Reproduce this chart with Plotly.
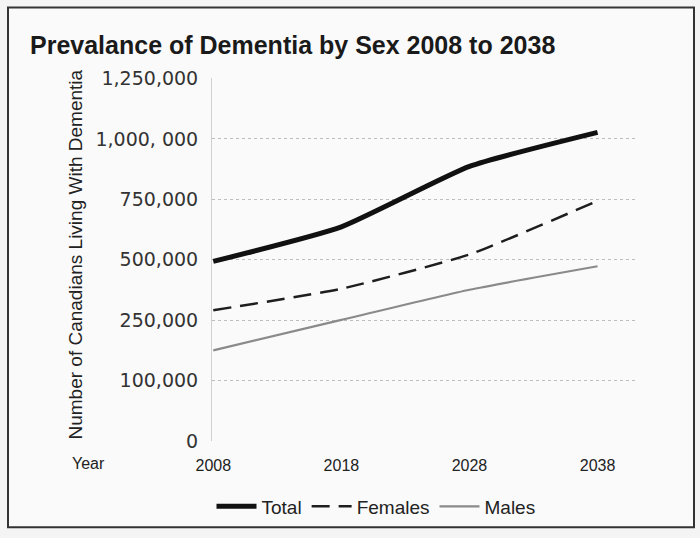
import plotly.graph_objects as go

years = [2008, 2018, 2028, 2038]
total = [493000, 636000, 886000, 1027000]
females = [291000, 380000, 522000, 744000]
males = [125000, 251000, 376000, 473000]

# the printed axis has evenly spaced gridlines with these (uneven) labels
y_tick_vals = [-250000, 0, 250000, 500000, 750000, 1000000, 1250000]
y_tick_text = ["0", "100,000", "250,000", "500,000", "750,000", "1,000, 000", "1,250,000"]
x_tick_vals = [2008, 2018, 2028, 2038]

W, H = 700, 538
L, R, T, B = 212, 64, 78, 94
pw, ph = W - L - R, H - T - B

def px(x):
    return (x - L) / pw

def py(y):
    return (H - B - y) / ph

font = "Liberation Sans, Arial, sans-serif"

fig = go.Figure()
fig.add_trace(go.Scatter(x=years, y=total, name="Total", mode="lines",
                         line=dict(color="#111111", width=5, shape="spline", smoothing=0.5)))
fig.add_trace(go.Scatter(x=years, y=females, name="Females", mode="lines",
                         line=dict(color="#1e1e1e", width=2.5, dash="18px,9px", shape="spline", smoothing=0.5)))
fig.add_trace(go.Scatter(x=years, y=males, name="Males", mode="lines",
                         line=dict(color="#8a8a8a", width=2.2, shape="spline", smoothing=0.5)))

fig.update_layout(
    width=W, height=H,
    margin=dict(l=L, r=R, t=T, b=B),
    paper_bgcolor="#f4f4f4", plot_bgcolor="rgba(0,0,0,0)",
    font=dict(family=font, color="#222222", size=15),
    title=dict(text="<b>Prevalance of Dementia by Sex 2008 to 2038</b>",
               x=30 / W, xanchor="left", y=1 - 45 / H, yanchor="middle",
               font=dict(family=font, size=25, color="#1a1a1a")),
    xaxis=dict(range=[2007.9, 2041], tickvals=x_tick_vals, showgrid=False, zeroline=False,
               showline=False, ticks="", ticklabelstandoff=13,
               tickfont=dict(size=16, family=font, color="#222")),
    yaxis=dict(range=[-250000, 1252000], tickvals=y_tick_vals, ticktext=y_tick_text,
               showgrid=True, gridcolor="#bdbdbd", griddash="dot", gridwidth=1,
               zeroline=False, showline=True, linecolor="#d0d0d0", linewidth=1,
               ticks="", ticklabelstandoff=9,
               tickfont=dict(size=19, family="DejaVu Sans, sans-serif", color="#333")),
    legend=dict(orientation="h", x=px(376), xanchor="center", y=py(510), yanchor="middle",
                font=dict(size=19, family=font, color="#222"), bgcolor="rgba(0,0,0,0)",
                itemwidth=40, tracegroupgap=0),
    showlegend=True,
)

fig.add_annotation(text="Year", xref="paper", yref="paper", x=px(88), y=py(467),
                   xanchor="center", yanchor="middle",
                   showarrow=False, font=dict(size=16, family=font, color="#222"))
fig.add_annotation(text="Number of Canadians Living With Dementia", xref="paper", yref="paper",
                   x=px(76), y=py(256), xanchor="center", yanchor="middle",
                   textangle=-90, showarrow=False,
                   font=dict(size=19, family=font, color="#222"))

# outer frame of the printed figure
fig.add_shape(type="rect", xref="paper", yref="paper",
              x0=px(8), x1=px(694), y0=py(531), y1=py(7),
              line=dict(color="#333333", width=2), fillcolor="rgba(255,255,255,0.5)", layer="below")

fig.write_html("out.html")
